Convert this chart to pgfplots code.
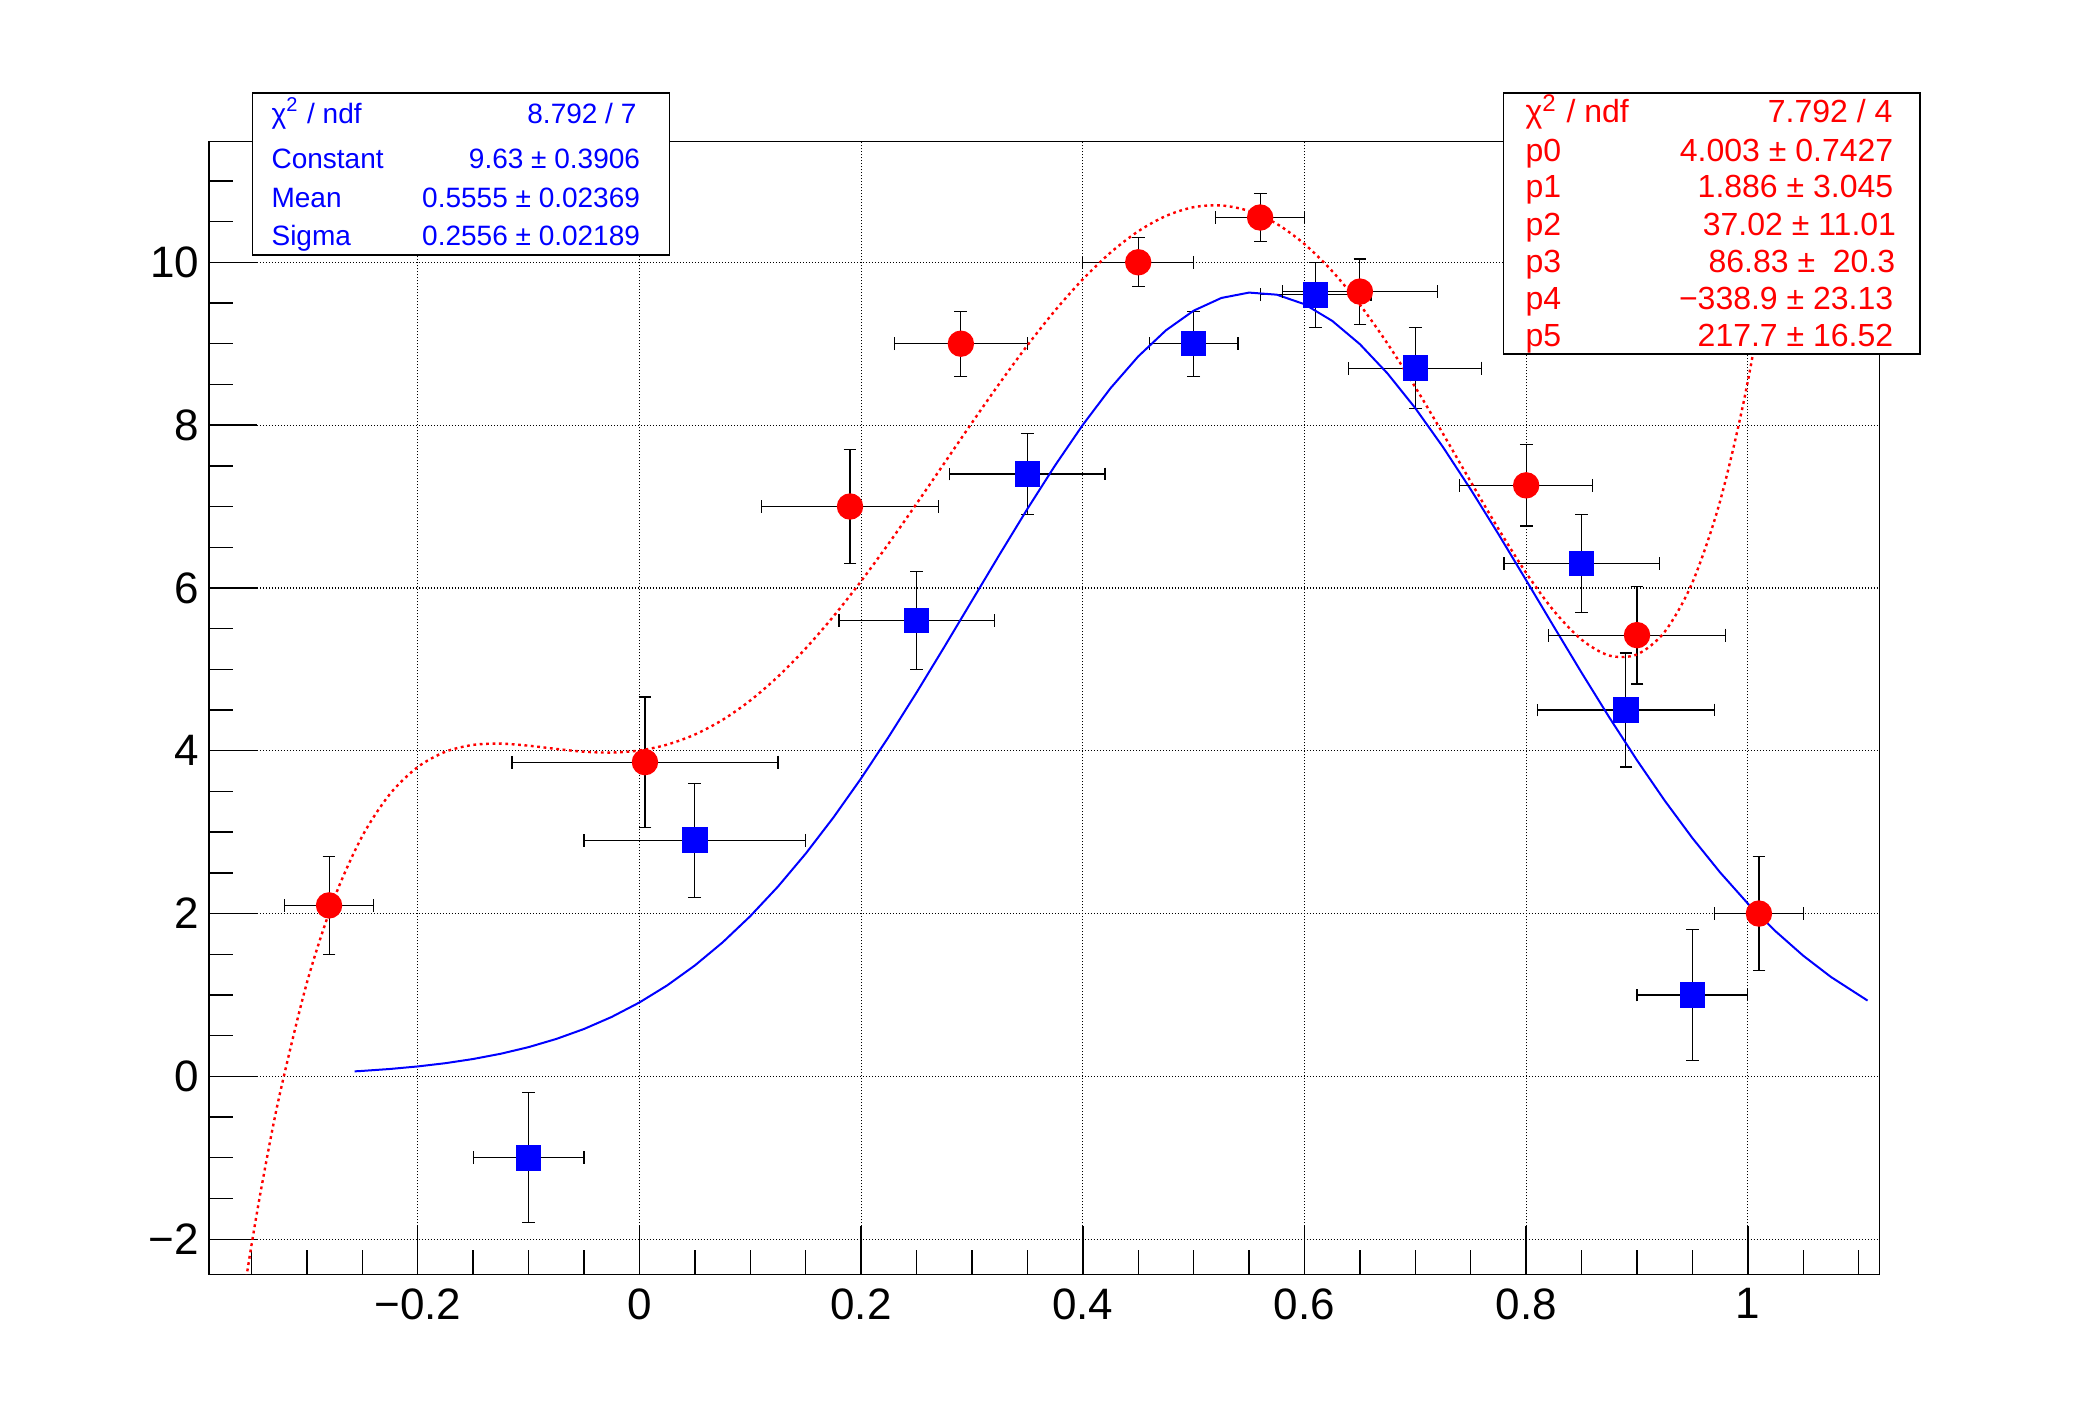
\documentclass[border=0pt]{standalone}
\usepackage{fontspec}
\setmainfont{Liberation Sans}
\usepackage{pgfplots}
\usepackage{pgfplotstable}
\pgfplotsset{compat=1.18}

\pgfplotstableread{
x y ex ey
-0.1 -1 0.05 0.8
0.05 2.9 0.1 0.7
0.25 5.6 0.07 0.6
0.35 7.4 0.07 0.5
0.5 9 0.04 0.4
0.61 9.6 0.05 0.4
0.7 8.7 0.06 0.5
0.85 6.3 0.07 0.6
0.89 4.5 0.08 0.7
0.95 1 0.05 0.8
}\tblBlue

\pgfplotstableread{
x y ex ey
-0.28 2.1 0.04 0.6
0.005 3.86 0.12 0.8
0.19 7 0.08 0.7
0.29 9 0.06 0.4
0.45 10 0.05 0.3
0.56 10.55 0.04 0.3
0.65 9.64 0.07 0.4
0.80 7.26 0.06 0.5
0.90 5.42 0.08 0.6
1.01 2 0.04 0.7
}\tblRed

\begin{document}
\begin{tikzpicture}[x=1pt,y=1pt]
\useasboundingbox (0,0) rectangle (522,354);
\begin{axis}[
  at={(52.2pt,35.4pt)}, anchor=south west,
  width=417.6pt, height=283.2pt, scale only axis,
  xmin=-0.3885, xmax=1.1185, ymin=-2.4325, ymax=11.4825,
  axis line style={black, line width=0.35pt},
  tick align=inside, tick pos=left,
  xtick={-0.2,0,0.2,0.4,0.6,0.8,1},
  xticklabels={−0.2,0,0.2,0.4,0.6,0.8,1},
  ytick={-2,0,2,4,6,8,10},
  yticklabels={−2,0,2,4,6,8,10},
  minor xtick={-0.35,-0.3,-0.25,-0.15,-0.1,-0.05,0.05,0.1,0.15,0.25,0.3,0.35,0.45,0.5,0.55,0.65,0.7,0.75,0.85,0.9,0.95,1.05,1.1},
  minor ytick={-1.5,-1,-0.5,0.5,1,1.5,2.5,3,3.5,4.5,5,5.5,6.5,7,7.5,8.5,9,9.5,10.5,11},
  major tick length=12pt, minor tick length=6pt,
  every tick/.style={black, line width=0.35pt},
  grid=major,
  major grid style={black, line width=0.3pt, dash pattern=on 0.3pt off 0.45pt},
  tick label style={font=\fontsize{11}{13}\selectfont, black},
  yticklabel style={xshift=1.1pt},
]

% graph 1 (blue squares)
\addplot[only marks, mark=square*, mark size=3pt, color=blue,
  mark options={fill=blue, draw=blue},
  error bars/.cd, x dir=both, x explicit, y dir=both, y explicit,
  error bar style={black, line width=0.28pt},
  error mark options={rotate=90, black, line width=0.28pt, mark size=1.6pt}]
  table[x=x, y=y, x error=ex, y error=ey] {\tblBlue};

% gaussian fit of graph 1
\addplot[blue, line width=0.5pt] coordinates {
(-0.257,0.0616) (-0.25,0.0672) (-0.225,0.0910) (-0.2,0.1220) (-0.175,0.1621)
(-0.15,0.2134) (-0.125,0.2782) (-0.1,0.3593) (-0.075,0.4597) (-0.05,0.5821)
(-0.025,0.7303) (0,0.9078) (0.025,1.1174) (0.05,1.3624) (0.075,1.6452)
(0.1,1.9681) (0.125,2.3315) (0.15,2.7360) (0.175,3.1798) (0.2,3.6607)
(0.225,4.1740) (0.25,4.7144) (0.275,5.2738) (0.3,5.8432) (0.325,6.4125)
(0.35,6.9704) (0.375,7.5047) (0.4,8.0030) (0.425,8.4532) (0.45,8.8436)
(0.475,9.1641) (0.5,9.4056) (0.525,9.5617) (0.55,9.6278) (0.575,9.6020)
(0.6,9.4852) (0.625,9.2805) (0.65,8.9938) (0.675,8.6330) (0.7,8.2078)
(0.725,7.7293) (0.75,7.2093) (0.775,6.6604) (0.8,6.0942) (0.825,5.5235)
(0.85,4.9585) (0.875,4.4092) (0.9,3.8828) (0.925,3.3871) (0.95,2.9266)
(0.975,2.5047) (1.0,2.1228) (1.025,1.7824) (1.05,1.4819) (1.075,1.2208)
(1.108,0.9311)
};

% graph 2 (red circles)
\addplot[only marks, mark=*, mark size=3.1pt, color=red,
  mark options={fill=red, draw=red},
  error bars/.cd, x dir=both, x explicit, y dir=both, y explicit,
  error bar style={black, line width=0.28pt},
  error mark options={rotate=90, black, line width=0.28pt, mark size=1.6pt}]
  table[x=x, y=y, x error=ex, y error=ey] {\tblRed};

% pol5 fit of graph 2
\addplot[red, line width=0.6pt, dash pattern=on 0.7pt off 0.9pt, smooth] coordinates {
(-0.36,-2.938) (-0.35,-2.074) (-0.34,-1.290) (-0.325,-0.251) (-0.3,1.150)
(-0.275,2.198) (-0.25,2.952) (-0.225,3.470) (-0.2,3.800) (-0.175,3.988)
(-0.15,4.072) (-0.125,4.087) (-0.1,4.062) (-0.075,4.022) (-0.05,3.988)
(-0.025,3.978) (0,4.003) (0.025,4.075) (0.05,4.199) (0.075,4.379)
(0.1,4.617) (0.125,4.911) (0.15,5.257) (0.175,5.650) (0.2,6.083)
(0.225,6.548) (0.25,7.034) (0.275,7.531) (0.3,8.029) (0.325,8.515)
(0.35,8.979) (0.375,9.408) (0.4,9.791) (0.425,10.119) (0.45,10.381)
(0.475,10.569) (0.5,10.677) (0.525,10.698) (0.55,10.630) (0.575,10.472)
(0.6,10.224) (0.625,9.891) (0.65,9.479) (0.675,8.999) (0.7,8.465)
(0.725,7.893) (0.75,7.304) (0.775,6.725) (0.8,6.184) (0.825,5.718)
(0.85,5.364) (0.875,5.169) (0.9,5.183) (0.925,5.462) (0.95,6.067)
(0.975,7.068) (1.0,8.539) (1.025,10.563) (1.05,13.226)
};
\end{axis}

% stats box of graph 1
\draw[black, line width=0.35pt, fill=white] (63.1,290.25) rectangle (167.3,330.7);
\begin{scope}[every node/.style={inner sep=0pt, text=blue, font=\fontsize{7}{8}\selectfont}]
\node[anchor=base west] at (67.7,323.2) {χ\textsuperscript{2} / ndf};
\node[anchor=base east] at (159.3,323.2) {8.792 / 7};
\node[anchor=base west] at (67.7,311.9) {Constant};
\node[anchor=base east] at (160.2,311.9) {9.63 ± 0.3906};
\node[anchor=base west] at (67.7,302.1) {Mean};
\node[anchor=base east] at (160.2,302.1) {0.5555 ± 0.02369};
\node[anchor=base west] at (67.7,292.6) {Sigma};
\node[anchor=base east] at (160.2,292.6) {0.2556 ± 0.02189};
\end{scope}

% stats box of graph 2
\draw[black, line width=0.35pt, fill=white] (375.8,265.5) rectangle (480,330.7);
\begin{scope}[every node/.style={inner sep=0pt, text=red, font=\fontsize{8}{9}\selectfont}]
\node[anchor=base west] at (381.2,323.3) {χ\textsuperscript{2} / ndf};
\node[anchor=base east] at (473.3,323.3) {7.792 / 4};
\node[anchor=base west] at (381.2,313.6) {p0};
\node[anchor=base east] at (473.5,313.6) {4.003 ± 0.7427};
\node[anchor=base west] at (381.2,304.7) {p1};
\node[anchor=base east] at (473.5,304.7) {1.886 ± 3.045};
\node[anchor=base west] at (381.2,295.1) {p2};
\node[anchor=base east] at (474.2,295.1) {37.02 ± 11.01};
\node[anchor=base west] at (381.2,285.9) {p3};
\node[anchor=base east] at (474.0,285.9) {86.83 ±\ \ 20.3};
\node[anchor=base west] at (381.2,276.5) {p4};
\node[anchor=base east] at (473.5,276.5) {−338.9 ± 23.13};
\node[anchor=base west] at (381.2,267.3) {p5};
\node[anchor=base east] at (473.5,267.3) {217.7 ± 16.52};
\end{scope}
\end{tikzpicture}
\end{document}
